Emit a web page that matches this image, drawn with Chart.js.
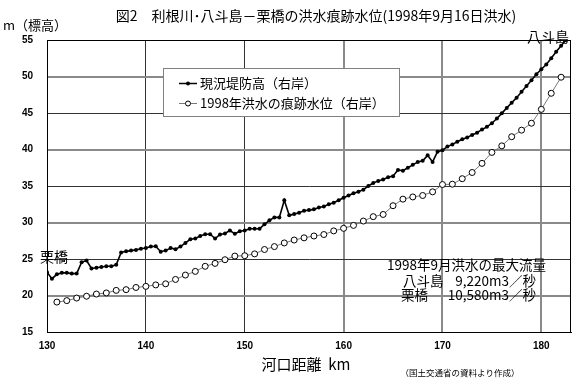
<!DOCTYPE html>
<html><head><meta charset="utf-8">
<script src="https://cdn.jsdelivr.net/npm/chart.js@4/dist/chart.umd.min.js"></script>
<style>html,body{margin:0;padding:0;background:#fff;}canvas{display:block;}</style>
</head><body>
<canvas id="c" width="576" height="384"></canvas>
<script>
// ---- data ----
const chartTitle = '図2　利根川･八斗島－栗橋の洪水痕跡水位(1998年9月16日洪水)';
const yUnitLabel = 'm（標高）';
const xAxisTitle = '河口距離  km';
const sourceNote = '（国土交通省の資料より作成）';
const seriesNames = ['現況堤防高（右岸）', '1998年洪水の痕跡水位（右岸）'];
const xTicks = [130, 140, 150, 160, 170, 180];
const yTicks = [15, 20, 25, 30, 35, 40, 45, 50, 55];

const leveeKm = [130,130.5,131,131.5,132,132.5,133,133.5,134,134.5,135,135.5,136,136.5,137,137.5,138,138.5,139,139.5,
  140,140.5,141,141.5,142,142.5,143,143.5,144,144.5,145,145.5,146,146.5,147,147.5,148,148.5,149,149.5,
  150,150.5,151,151.5,152,152.5,153,153.5,154,154.5,155,155.5,156,156.5,157,157.5,158,158.5,159,159.5,
  160,160.5,161,161.5,162,162.5,163,163.5,164,164.5,165,165.5,166,166.5,167,167.5,168,168.5,169,169.5,
  170,170.5,171,171.5,172,172.5,173,173.5,174,174.5,175,175.5,176,176.5,177,177.5,178,178.5,179,179.5,
  180,180.5,181,181.5,182,182.5];
const leveeHeight = [23.2,22.3,22.9,23.1,23.1,23.0,23.0,24.55,24.8,23.7,23.8,23.9,24.0,24.0,24.2,25.9,26.05,26.15,26.25,26.4,
  26.5,26.7,26.75,26.0,26.15,26.5,26.35,26.7,27.2,27.7,27.8,28.15,28.4,28.4,27.8,28.35,28.5,28.9,28.45,28.8,
  28.9,29.15,29.15,29.15,29.75,30.3,30.7,30.7,33.05,31.0,31.15,31.35,31.6,31.7,31.8,32.05,32.2,32.5,32.7,33.05,
  33.4,33.7,34.0,34.2,34.5,35.0,35.4,35.7,35.9,36.2,36.35,37.2,37.1,37.5,37.9,38.3,38.45,39.2,38.3,39.7,
  39.9,40.4,40.7,41.05,41.4,41.65,42.0,42.3,42.75,43.1,43.6,44.25,44.95,45.7,46.4,47.1,47.9,48.7,49.5,50.3,
  51.0,51.65,52.5,53.4,54.2,55.0];

const floodKm = [131,132,133,134,135,136,137,138,139,140,141,142,143,144,145,146,147,148,149,150,
  151,152,153,154,155,156,157,158,159,160,161,162,163,164,165,166,167,168,169,170,
  171,172,173,174,175,176,177,178,179,180,181,182];
const floodLevel = [19.1,19.3,19.65,19.9,20.2,20.35,20.7,20.8,21.1,21.25,21.45,21.6,22.2,22.8,23.3,24.0,24.4,24.9,25.4,25.45,
  25.7,26.3,26.7,27.2,27.6,27.9,28.15,28.35,28.85,29.2,29.6,30.2,30.8,31.1,32.3,33.2,33.5,33.7,34.2,35.2,
  35.25,36.0,36.85,38.1,39.6,40.5,41.75,42.65,43.6,45.5,47.7,49.9];

const placeLabels = ['栗橋', '八斗島'];
const noteLines = ['1998年9月洪水の最大流量', '八斗島', '9,220m3／秒', '栗橋', '10,580m3／秒'];

// ---- chart ----
const JP = '"Noto Sans CJK JP", "Noto Sans", sans-serif';
const NUM = '"Liberation Sans", Arial, sans-serif';

const decor = {
  id: 'decor',
  afterDatasetsDraw(chart) {
    const ctx = chart.ctx;
    const a = chart.chartArea;
    ctx.save();
    // frame
    ctx.strokeStyle = '#000';
    ctx.lineWidth = 1;
    ctx.strokeRect(Math.round(a.left) + 0.5, Math.round(a.top) + 0.5, Math.round(a.right - a.left) - 1, Math.round(a.bottom - a.top));
    // legend box
    ctx.fillStyle = '#fff';
    ctx.fillRect(163, 68, 236, 49);
    ctx.strokeStyle = '#808080';
    ctx.strokeRect(163.5, 68.5, 236, 48);
    // legend samples
    ctx.strokeStyle = '#000'; ctx.lineWidth = 1.5;
    ctx.beginPath(); ctx.moveTo(179, 83.5); ctx.lineTo(197, 83.5); ctx.stroke();
    ctx.fillStyle = '#000';
    ctx.beginPath(); ctx.arc(188, 83.5, 2, 0, Math.PI * 2); ctx.fill();
    ctx.strokeStyle = '#777'; ctx.lineWidth = 1;
    ctx.beginPath(); ctx.moveTo(179, 103.5); ctx.lineTo(197, 103.5); ctx.stroke();
    ctx.fillStyle = '#fff'; ctx.strokeStyle = '#000';
    ctx.beginPath(); ctx.arc(188, 103.5, 2.5, 0, Math.PI * 2); ctx.fill(); ctx.stroke();
    ctx.fillStyle = '#000';
    ctx.textBaseline = 'middle'; ctx.textAlign = 'left';
    ctx.font = '13px ' + JP;
    ctx.fillText(seriesNames[0], 200, 83);
    ctx.fillText(seriesNames[1], 200, 103);
    // place labels
    ctx.font = '14px ' + JP;
    ctx.fillText(placeLabels[0], 40, 257);
    ctx.fillText(placeLabels[1], 527, 37);
    // note
    ctx.font = '13.5px ' + JP;
    ctx.fillText(noteLines[0], 387, 265);
    ctx.fillText(noteLines[1], 403, 281);
    ctx.fillText(noteLines[3], 401, 295);
    ctx.textAlign = 'right';
    ctx.fillText(noteLines[2], 536, 281);
    ctx.fillText(noteLines[4], 536, 295);
    // title & axis texts
    ctx.textAlign = 'center';
    ctx.font = '14px ' + JP;
    ctx.fillText(chartTitle, 316, 16);
    ctx.textAlign = 'left';
    ctx.font = '13px ' + JP;
    ctx.fillText(yUnitLabel, 3, 25);
    ctx.font = '15px ' + JP;
    ctx.textAlign = 'center';
    ctx.fillText(xAxisTitle, 306, 364);
    ctx.font = '8.5px ' + JP;
    ctx.fillText(sourceNote, 460, 373);
    ctx.restore();
  }
};

const grayX = [160, 170, 180];
new Chart(document.getElementById('c'), {
  type: 'line',
  data: {
    datasets: [
      {
        label: seriesNames[0],
        data: leveeKm.map((k, i) => ({ x: k, y: leveeHeight[i] })),
        borderColor: '#000', borderWidth: 1.6,
        pointRadius: 2, pointBackgroundColor: '#000', pointBorderWidth: 0,
        tension: 0, order: 2
      },
      {
        label: seriesNames[1],
        data: floodKm.map((k, i) => ({ x: k, y: floodLevel[i] })),
        borderColor: '#777', borderWidth: 1,
        pointRadius: 3, pointBackgroundColor: '#fff', pointBorderColor: '#000', pointBorderWidth: 1,
        tension: 0, order: 1
      }
    ]
  },
  options: {
    responsive: false, animation: false, devicePixelRatio: 1,
    layout: { padding: { left: 0, right: 5, top: 40, bottom: 0 } },
    plugins: { legend: { display: false }, title: { display: false }, tooltip: { enabled: false } },
    scales: {
      x: {
        type: 'linear', min: 130, max: 183,
        afterBuildTicks: s => { s.ticks = xTicks.map(v => ({ value: v })); },
        afterFit: s => { s.height = 52; },
        grid: {
          drawTicks: false,
          color: c => (c.tick && grayX.includes(c.tick.value)) ? '#8a8a8a' : '#333',
          lineWidth: c => (c.tick && grayX.includes(c.tick.value)) ? 2 : 1
        },
        border: { display: true, color: '#000', width: 1 },
        ticks: { color: '#000', padding: 8, font: { family: NUM, size: 10, weight: 'bold' } }
      },
      y: {
        min: 15, max: 55,
        afterBuildTicks: s => { s.ticks = yTicks.map(v => ({ value: v })); },
        afterFit: s => { s.width = 47; },
        grid: {
          drawTicks: false,
          color: c => (c.tick && c.tick.value % 10 === 0) ? '#8a8a8a' : '#333',
          lineWidth: c => (c.tick && c.tick.value % 10 === 0) ? 2 : 1
        },
        border: { display: true, color: '#000', width: 1 },
        ticks: { color: '#000', padding: 14, font: { family: NUM, size: 10, weight: 'bold' } }
      }
    }
  },
  plugins: [decor]
});
</script>
</body></html>
